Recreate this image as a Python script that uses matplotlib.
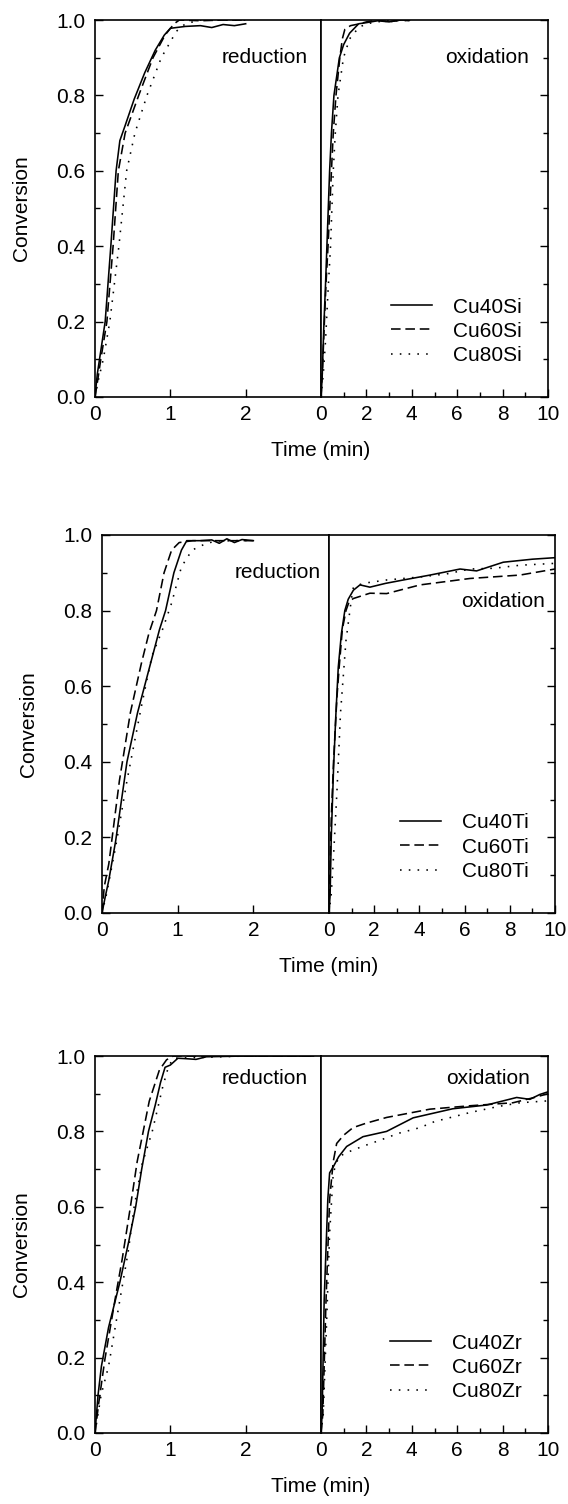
import matplotlib
matplotlib.use("Agg")
import matplotlib.pyplot as plt
from matplotlib.ticker import MultipleLocator, FixedLocator

plt.rcParams['font.family'] = ['Liberation Sans', 'DejaVu Sans']
plt.rcParams['font.size'] = 15

# ---------------- data: Si ----------------
si_red_t40 = [0, 0.03, 0.06, 0.135, 0.21, 0.28, 0.33, 0.40, 0.52, 0.66, 0.80, 0.92, 1.0, 1.2, 1.4, 1.55, 1.7, 1.85, 2.0]
si_red_c40 = [0, 0.06, 0.10, 0.20, 0.40, 0.60, 0.68, 0.72, 0.79, 0.86, 0.92, 0.96, 0.978, 0.983, 0.985, 0.980, 0.988, 0.985, 0.99]
si_red_t60 = [0, 0.04, 0.077, 0.158, 0.24, 0.31, 0.40, 0.58, 0.77, 0.93, 1.05, 1.12, 1.4, 1.7, 2.0]
si_red_c60 = [0, 0.05, 0.10, 0.20, 0.40, 0.60, 0.70, 0.80, 0.90, 0.96, 0.99, 1.0, 0.998, 1.0, 1.0]
si_red_t80 = [0, 0.05, 0.11, 0.197, 0.317, 0.42, 0.53, 0.69, 0.88, 1.08, 1.2, 1.4, 1.7, 2.0]
si_red_c80 = [0, 0.05, 0.10, 0.20, 0.40, 0.60, 0.70, 0.80, 0.90, 0.97, 0.99, 1.0, 1.0, 1.0]

si_ox_t40 = [0, 0.05, 0.12, 0.2, 0.26, 0.38, 0.46, 0.57, 0.81, 1.0, 1.26, 1.66, 2.0, 2.5, 3.0, 3.5, 3.9]
si_ox_c40 = [0, 0.05, 0.18, 0.30, 0.40, 0.60, 0.70, 0.80, 0.90, 0.935, 0.965, 0.99, 0.993, 0.998, 0.995, 1.0, 1.0]
si_ox_t60 = [0, 0.07, 0.15, 0.22, 0.31, 0.46, 0.54, 0.66, 0.83, 0.94, 1.05, 1.3, 1.7, 2.0, 2.5, 3.0, 3.5, 3.9]
si_ox_c60 = [0, 0.08, 0.20, 0.30, 0.40, 0.60, 0.70, 0.80, 0.90, 0.95, 0.975, 0.985, 0.99, 0.995, 1.0, 0.995, 1.0, 0.998]
si_ox_t80 = [0, 0.1, 0.2, 0.3, 0.42, 0.54, 0.63, 0.75, 0.99, 1.26, 1.66, 2.0, 2.5, 3.0, 3.5, 3.9]
si_ox_c80 = [0, 0.06, 0.15, 0.27, 0.40, 0.60, 0.70, 0.80, 0.90, 0.95, 0.98, 0.99, 0.995, 1.0, 0.997, 1.0]

# ---------------- data: Ti ----------------
ti_red_t40 = [0, 0.04, 0.09, 0.18, 0.33, 0.47, 0.615, 0.76, 0.84, 0.95, 1.05, 1.12, 1.3, 1.45, 1.55, 1.65, 1.75, 1.85, 2.0]
ti_red_c40 = [0, 0.04, 0.087, 0.19, 0.40, 0.53, 0.64, 0.75, 0.80, 0.90, 0.96, 0.985, 0.985, 0.987, 0.978, 0.99, 0.98, 0.988, 0.985]
ti_red_t60 = [0, 0.03, 0.09, 0.23, 0.375, 0.52, 0.62, 0.72, 0.82, 0.92, 1.02, 1.2, 1.5, 2.0]
ti_red_c60 = [0, 0.07, 0.13, 0.35, 0.53, 0.66, 0.74, 0.80, 0.90, 0.96, 0.98, 0.985, 0.985, 0.985]
ti_red_t80 = [0, 0.06, 0.18, 0.33, 0.52, 0.66, 0.80, 0.92, 1.05, 1.19, 1.38, 1.52, 2.0]
ti_red_c80 = [0, 0.05, 0.175, 0.35, 0.546, 0.68, 0.75, 0.82, 0.916, 0.96, 0.978, 0.984, 0.986]

ti_ox_t40 = [0, 0.05, 0.1, 0.2, 0.3, 0.41, 0.55, 0.7, 0.85, 1.08, 1.37, 1.81, 2.5, 3.29, 4.47, 5.8, 6.53, 7.71, 9.0, 10.0]
ti_ox_c40 = [0, 0.05, 0.20, 0.38, 0.52, 0.65, 0.74, 0.80, 0.83, 0.854, 0.868, 0.862, 0.872, 0.881, 0.894, 0.91, 0.905, 0.928, 0.936, 0.94]
ti_ox_t60 = [0, 0.04, 0.1, 0.2, 0.35, 0.45, 0.59, 0.75, 0.9, 1.08, 1.81, 2.55, 4.03, 6.24, 8.45, 10.0]
ti_ox_c60 = [0, 0.10, 0.25, 0.40, 0.57, 0.65, 0.75, 0.80, 0.825, 0.832, 0.846, 0.845, 0.868, 0.885, 0.894, 0.91]
ti_ox_t80 = [0, 0.1, 0.2, 0.35, 0.51, 0.75, 0.99, 1.08, 1.5, 2.55, 4.03, 5.2, 6.24, 7.3, 8.45, 10.0]
ti_ox_c80 = [0, 0.05, 0.15, 0.32, 0.53, 0.72, 0.83, 0.862, 0.872, 0.881, 0.889, 0.897, 0.91, 0.912, 0.92, 0.925]

# ---------------- data: Zr ----------------
zr_red_t40 = [0, 0.04, 0.085, 0.18, 0.33, 0.45, 0.54, 0.62, 0.71, 0.8, 0.87, 0.93, 1.0, 1.1, 1.2, 1.34, 1.48, 2.0, 2.9]
zr_red_c40 = [0, 0.10, 0.177, 0.28, 0.40, 0.51, 0.60, 0.70, 0.80, 0.87, 0.93, 0.97, 0.976, 0.994, 0.993, 0.991, 0.998, 1.0, 1.0]
zr_red_t60 = [0, 0.05, 0.13, 0.28, 0.36, 0.47, 0.56, 0.64, 0.72, 0.855, 0.95, 1.04, 2.0, 2.9]
zr_red_c60 = [0, 0.08, 0.194, 0.37, 0.46, 0.60, 0.72, 0.80, 0.88, 0.963, 0.99, 1.0, 1.0, 1.0]
zr_red_t80 = [0, 0.08, 0.18, 0.33, 0.44, 0.52, 0.62, 0.76, 0.90, 0.976, 1.04, 2.0, 2.9]
zr_red_c80 = [0, 0.10, 0.177, 0.353, 0.48, 0.60, 0.71, 0.80, 0.919, 0.972, 0.994, 1.0, 1.0]

zr_ox_t40 = [0, 0.05, 0.14, 0.3, 0.38, 0.54, 0.78, 1.13, 1.85, 2.89, 4.06, 5.8, 7.3, 8.62, 9.2, 9.64, 10.0]
zr_ox_c40 = [0, 0.05, 0.353, 0.62, 0.69, 0.706, 0.733, 0.76, 0.786, 0.80, 0.836, 0.86, 0.87, 0.89, 0.885, 0.898, 0.905]
zr_ox_t60 = [0, 0.08, 0.22, 0.38, 0.54, 0.69, 1.0, 1.41, 2.0, 2.89, 4.8, 6.56, 8.46, 9.4, 10.0]
zr_ox_c60 = [0, 0.05, 0.35, 0.62, 0.72, 0.768, 0.79, 0.81, 0.822, 0.837, 0.859, 0.868, 0.876, 0.89, 0.90]
zr_ox_t80 = [0, 0.1, 0.25, 0.38, 0.54, 0.78, 1.18, 1.82, 2.62, 3.42, 4.36, 5.0, 6.56, 7.8, 8.77, 10.0]
zr_ox_c80 = [0, 0.05, 0.30, 0.53, 0.69, 0.733, 0.745, 0.76, 0.777, 0.795, 0.81, 0.826, 0.85, 0.866, 0.876, 0.881]

panel_names = ['Si', 'Ti', 'Zr']
series_labels = {'Si': ['Cu40Si', 'Cu60Si', 'Cu80Si'],
                 'Ti': ['Cu40Ti', 'Cu60Ti', 'Cu80Ti'],
                 'Zr': ['Cu40Zr', 'Cu60Zr', 'Cu80Zr']}

red_data = {
    'Si': [(si_red_t40, si_red_c40), (si_red_t60, si_red_c60), (si_red_t80, si_red_c80)],
    'Ti': [(ti_red_t40, ti_red_c40), (ti_red_t60, ti_red_c60), (ti_red_t80, ti_red_c80)],
    'Zr': [(zr_red_t40, zr_red_c40), (zr_red_t60, zr_red_c60), (zr_red_t80, zr_red_c80)],
}
ox_data = {
    'Si': [(si_ox_t40, si_ox_c40), (si_ox_t60, si_ox_c60), (si_ox_t80, si_ox_c80)],
    'Ti': [(ti_ox_t40, ti_ox_c40), (ti_ox_t60, ti_ox_c60), (ti_ox_t80, ti_ox_c80)],
    'Zr': [(zr_ox_t40, zr_ox_c40), (zr_ox_t60, zr_ox_c60), (zr_ox_t80, zr_ox_c80)],
}

styles = ['-', (0, (6, 3)), (0, (1, 4.5))]

W, H = 568, 1504
fig = plt.figure(figsize=(W / 100, H / 100), dpi=100)

# pixel layout: (left, divider, right, top, bottom)
layout = {
    'Si': (95, 321, 548, 20, 397),
    'Ti': (102, 329, 555, 535, 913),
    'Zr': (95, 321, 548, 1056, 1433),
}
red_text = {'Si': (2.82, 0.90), 'Ti': (2.89, 0.90), 'Zr': (2.83, 0.94)}
ox_text = {'Si': (9.16, 0.90), 'Ti': (9.56, 0.823), 'Zr': (9.2, 0.94)}

LW = 1.15
SPW = 1.2

for name in panel_names:
    l, d, r, t, b = layout[name]
    axr = fig.add_axes([l / W, 1 - b / H, (d - l) / W, (b - t) / H])
    axo = fig.add_axes([d / W, 1 - b / H, (r - d) / W, (b - t) / H])

    for (tt, cc), ls in zip(red_data[name], styles):
        axr.plot(tt, cc, color='black', lw=LW, linestyle=ls)
    handles = []
    for (tt, cc), ls, lab in zip(ox_data[name], styles, series_labels[name]):
        h, = axo.plot(tt, cc, color='black', lw=LW, linestyle=ls, label=lab)
        handles.append(h)

    axr.set_xlim(0, 3)
    axo.set_xlim(0, 10)
    for ax in (axr, axo):
        ax.set_ylim(0, 1)
        for sp in ax.spines.values():
            sp.set_linewidth(SPW)
        ax.yaxis.set_major_locator(MultipleLocator(0.2))
        ax.yaxis.set_minor_locator(MultipleLocator(0.1))
        ax.tick_params(which='both', direction='in', width=1.0, top=False)
        ax.tick_params(which='major', length=6, pad=6)
        ax.tick_params(which='minor', length=3.5)

    axr.xaxis.set_major_locator(FixedLocator([0, 1, 2]))
    axr.tick_params(axis='y', which='both', left=True, right=False, pad=7)
    axr.yaxis.set_major_formatter(plt.FuncFormatter(lambda v, p: f"{v:.1f}"))

    axo.xaxis.set_major_locator(MultipleLocator(2))
    axo.xaxis.set_minor_locator(MultipleLocator(1))
    axo.tick_params(axis='y', which='both', left=False, right=True, labelleft=False)

    axr.set_ylabel('Conversion')
    axr.yaxis.set_label_coords(-64 / (d - l), 0.5)

    axr.text(*red_text[name], 'reduction', ha='right', va='center')
    axo.text(*ox_text[name], 'oxidation', ha='right', va='center')

    axo.legend(handles=handles, loc='lower right', bbox_to_anchor=(0.885, 0.085),
               frameon=False, borderpad=0, borderaxespad=0, handlelength=2.0,
               handletextpad=1.0, labelspacing=0.25, fontsize=15)

    fig.text(d / W, 1 - (b + 54) / H, 'Time (min)', ha='center', va='center', fontsize=15)

fig.savefig('out.png', dpi=100)
